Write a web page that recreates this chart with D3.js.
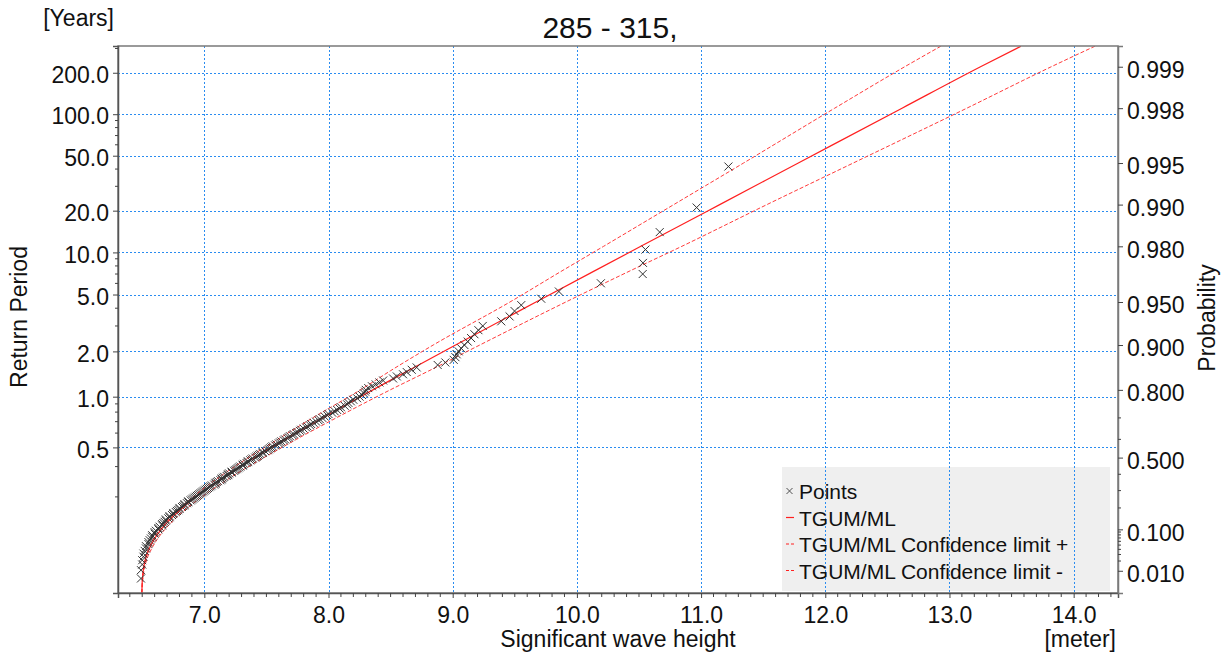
<!DOCTYPE html>
<html>
<head>
<meta charset="utf-8">
<script src="https://cdn.jsdelivr.net/npm/d3@7"></script>
<style>
  body { margin: 0; background: #ffffff; }
  svg { display: block; }
  text { font-family: "Liberation Sans", Arial, sans-serif; fill: #111; }
</style>
</head>
<body>
<svg id="chart" width="1225" height="659"></svg>
<script>
// ---- data -------------------------------------------------------------
const chartTitle = "285 - 315,";
const eventsPerYear = 4.52;           // storm events per year in the sample

const xTickValues = [7, 8, 9, 10, 11, 12, 13, 14];
const returnPeriodTicks = [200, 100, 50, 20, 10, 5, 2, 1, 0.5];
const returnPeriodMinor = [300, 90, 80, 70, 60, 40, 30, 9, 8, 7, 6, 4, 3, 0.9, 0.8, 0.7, 0.6, 0.4, 0.3];
const probabilityTicks = [0.999, 0.998, 0.995, 0.990, 0.980, 0.950, 0.900, 0.800, 0.500, 0.100, 0.010];
const probabilityMinor = [0.7, 0.6, 0.4, 0.3, 0.2, 0.09, 0.08, 0.07, 0.06, 0.05, 0.04, 0.03, 0.02];

// sample points: significant wave height [m] and plotting-position probability
const pointHs = [
  6.490, 6.490, 6.500, 6.500, 6.510, 6.510, 6.520, 6.530, 6.530, 6.550,
  6.550, 6.560, 6.570, 6.580, 6.580, 6.600, 6.600, 6.610, 6.630, 6.630,
  6.640, 6.660, 6.660, 6.670, 6.680, 6.690, 6.690, 6.710, 6.720, 6.720,
  6.740, 6.750, 6.750, 6.770, 6.780, 6.790, 6.800, 6.800, 6.820, 6.830,
  6.840, 6.840, 6.860, 6.870, 6.870, 6.890, 6.900, 6.910, 6.920, 6.930,
  6.940, 6.950, 6.960, 6.970, 6.980, 6.990, 7.000, 7.010, 7.020, 7.030,
  7.040, 7.050, 7.060, 7.080, 7.090, 7.090, 7.100, 7.110, 7.130, 7.140,
  7.140, 7.150, 7.160, 7.180, 7.190, 7.190, 7.200, 7.220, 7.220, 7.240,
  7.250, 7.260, 7.270, 7.280, 7.290, 7.310, 7.310, 7.320, 7.340, 7.350,
  7.350, 7.370, 7.380, 7.390, 7.410, 7.420, 7.430, 7.440, 7.450, 7.470,
  7.470, 7.490, 7.510, 7.520, 7.530, 7.540, 7.550, 7.570, 7.580, 7.600,
  7.610, 7.620, 7.640, 7.650, 7.670, 7.680, 7.690, 7.710, 7.720, 7.740,
  7.750, 7.770, 7.780, 7.800, 7.820, 7.830, 7.850, 7.860, 7.880, 7.900,
  7.920, 7.930, 7.950, 7.970, 7.990, 8.000, 8.030, 8.050, 8.070, 8.090,
  8.100, 8.130, 8.150, 8.160, 8.180, 8.200, 8.230, 8.250, 8.270, 8.285,
  8.295, 8.300, 8.320, 8.350, 8.380, 8.410, 8.440, 8.520, 8.550, 8.600,
  8.630, 8.670, 8.710, 8.879, 8.941, 9.008, 9.022, 9.032, 9.048, 9.068,
  9.094, 9.121, 9.148, 9.175, 9.207, 9.242, 9.391, 9.458, 9.498, 9.552,
  9.713, 9.855, 10.193, 10.530, 10.532, 10.552, 10.667, 10.964, 11.220
];
const pointProb = [
  0.0053, 0.0105, 0.0158, 0.0211, 0.0263, 0.0316, 0.0368, 0.0421, 0.0474, 0.0526,
  0.0579, 0.0632, 0.0684, 0.0737, 0.0789, 0.0842, 0.0895, 0.0947, 0.1000, 0.1053,
  0.1105, 0.1158, 0.1211, 0.1263, 0.1316, 0.1368, 0.1421, 0.1474, 0.1526, 0.1579,
  0.1632, 0.1684, 0.1737, 0.1789, 0.1842, 0.1895, 0.1947, 0.2000, 0.2053, 0.2105,
  0.2158, 0.2211, 0.2263, 0.2316, 0.2368, 0.2421, 0.2474, 0.2526, 0.2579, 0.2632,
  0.2684, 0.2737, 0.2789, 0.2842, 0.2895, 0.2947, 0.3000, 0.3053, 0.3105, 0.3158,
  0.3211, 0.3263, 0.3316, 0.3368, 0.3421, 0.3474, 0.3526, 0.3579, 0.3632, 0.3684,
  0.3737, 0.3789, 0.3842, 0.3895, 0.3947, 0.4000, 0.4053, 0.4105, 0.4158, 0.4211,
  0.4263, 0.4316, 0.4368, 0.4421, 0.4474, 0.4526, 0.4579, 0.4632, 0.4684, 0.4737,
  0.4789, 0.4842, 0.4895, 0.4947, 0.5000, 0.5053, 0.5105, 0.5158, 0.5211, 0.5263,
  0.5316, 0.5368, 0.5421, 0.5474, 0.5526, 0.5579, 0.5632, 0.5684, 0.5737, 0.5789,
  0.5842, 0.5895, 0.5947, 0.6000, 0.6053, 0.6105, 0.6158, 0.6211, 0.6263, 0.6316,
  0.6368, 0.6421, 0.6474, 0.6526, 0.6579, 0.6632, 0.6684, 0.6737, 0.6789, 0.6842,
  0.6895, 0.6947, 0.7000, 0.7053, 0.7105, 0.7158, 0.7211, 0.7263, 0.7316, 0.7368,
  0.7421, 0.7474, 0.7526, 0.7579, 0.7632, 0.7684, 0.7737, 0.7789, 0.7842, 0.7895,
  0.7947, 0.8000, 0.8053, 0.8105, 0.8158, 0.8211, 0.8263, 0.8316, 0.8368, 0.8421,
  0.8474, 0.8526, 0.8579, 0.8632, 0.8684, 0.8737, 0.8789, 0.8842, 0.8895, 0.8947,
  0.9000, 0.9053, 0.9105, 0.9158, 0.9211, 0.9263, 0.9316, 0.9368, 0.9421, 0.9474,
  0.9526, 0.9579, 0.9632, 0.9684, 0.9737, 0.9789, 0.9842, 0.9895, 0.9947
];

// fitted TGUM/ML distribution and its confidence limits
const fitProb  = [0.0012, 0.003, 0.006, 0.01, 0.02, 0.04, 0.07, 0.1, 0.15, 0.2, 0.3, 0.4, 0.5,
                  0.6, 0.7, 0.8, 0.85, 0.9, 0.95, 0.97, 0.98, 0.99, 0.995, 0.998, 0.999, 0.99929];
const fitHs    = [6.497, 6.499, 6.503, 6.508, 6.523, 6.555, 6.603, 6.653, 6.738, 6.824, 7.002, 7.193, 7.405,
                  7.651, 7.952, 8.357, 8.637, 9.023, 9.671, 10.142, 10.515, 11.150, 11.783, 12.618, 13.250, 13.575];
const upperHs  = [6.497, 6.499, 6.502, 6.506, 6.520, 6.550, 6.595, 6.643, 6.723, 6.804, 6.972, 7.153, 7.355,
                  7.591, 7.872, 8.257, 8.497, 8.843, 9.461, 9.880, 10.215, 10.780, 11.342, 12.076, 12.640, 12.930];
const lowerHs  = [6.497, 6.501, 6.507, 6.514, 6.533, 6.573, 6.628, 6.683, 6.773, 6.864, 7.052, 7.253, 7.480,
                  7.741, 8.062, 8.497, 8.807, 9.218, 9.911, 10.428, 10.845, 11.530, 12.225, 13.140, 13.820, 14.171];

// ---- layout -----------------------------------------------------------
const svg = d3.select("#chart");
const plot = { left: 118, right: 1118, top: 46, bottom: 593 };

// Gumbel reduced variate: the probability paper used on the vertical axis
const gumbel = p => -Math.log(-Math.log(p));
const probFromReturnPeriod = T => 1 - 1 / (eventsPerYear * T);

const x = d3.scaleLinear().domain([6.305, 14.357]).range([plot.left, plot.right]);
const y = d3.scaleLinear().domain([-1.899, 7.254]).range([plot.bottom, plot.top]);
const yProb = p => y(gumbel(p));
const yRP = T => y(gumbel(probFromReturnPeriod(T)));

svg.append("defs").append("clipPath").attr("id", "plotClip")
  .append("rect")
  .attr("x", plot.left).attr("y", plot.top)
  .attr("width", plot.right - plot.left).attr("height", plot.bottom - plot.top);

// legend background sits under the grid
const legend = { x: 782, y: 467, w: 328, h: 124 };
svg.append("rect")
  .attr("x", legend.x).attr("y", legend.y)
  .attr("width", legend.w).attr("height", legend.h)
  .attr("fill", "#efefef");

// ---- grid -------------------------------------------------------------
const gridColor = "#2a8cf0";
const grid = svg.append("g").attr("stroke", gridColor).attr("stroke-width", 1)
  .attr("stroke-dasharray", "2,2").attr("fill", "none");
grid.selectAll("line.v").data(xTickValues).join("line")
  .attr("class", "v")
  .attr("x1", d => Math.round(x(d)) + 0.5).attr("x2", d => Math.round(x(d)) + 0.5)
  .attr("y1", plot.top).attr("y2", plot.bottom);
grid.selectAll("line.h").data(returnPeriodTicks).join("line")
  .attr("class", "h")
  .attr("y1", d => Math.round(yRP(d)) + 0.5).attr("y2", d => Math.round(yRP(d)) + 0.5)
  .attr("x1", plot.left).attr("x2", plot.right);

// ---- fitted curve and confidence limits ---------------------------------
const curveLine = d3.line()
  .x(d => x(d[0]))
  .y(d => yProb(d[1]))
  .curve(d3.curveMonotoneX);

const lines = svg.append("g").attr("clip-path", "url(#plotClip)").attr("fill", "none");
lines.append("path")
  .datum(upperHs.map((h, i) => [h, fitProb[i]]))
  .attr("d", curveLine)
  .attr("stroke", "#ff3b3b").attr("stroke-width", 1).attr("stroke-dasharray", "4,2");
lines.append("path")
  .datum(lowerHs.map((h, i) => [h, fitProb[i]]))
  .attr("d", curveLine)
  .attr("stroke", "#ff3b3b").attr("stroke-width", 1).attr("stroke-dasharray", "4,2");
lines.append("path")
  .datum(fitHs.map((h, i) => [h, fitProb[i]]))
  .attr("d", curveLine)
  .attr("stroke", "#ff2020").attr("stroke-width", 1.2);

// ---- sample points (x markers) -------------------------------------------
const cross = (cx, cy, r) =>
  `M${cx - r},${cy - r}L${cx + r},${cy + r}M${cx - r},${cy + r}L${cx + r},${cy - r}`;
svg.append("g").attr("clip-path", "url(#plotClip)")
  .selectAll("path").data(pointHs.map((h, i) => [h, pointProb[i]])).join("path")
  .attr("d", d => cross(x(d[0]), yProb(d[1]), 4))
  .attr("stroke", "#333333").attr("stroke-width", 1).attr("fill", "none");

// ---- frame and axes ---------------------------------------------------
svg.append("rect")
  .attr("x", plot.left).attr("y", plot.top)
  .attr("width", plot.right - plot.left).attr("height", plot.bottom - plot.top)
  .attr("fill", "none").attr("stroke", "#7a7a7a").attr("stroke-width", 1.5);

const fontSize = 23;

// bottom axis: labelled major ticks plus 0.1 m minor ticks
const xAxis = svg.append("g").attr("transform", `translate(0,${plot.bottom})`)
  .call(d3.axisBottom(x).tickValues(xTickValues).tickFormat(d3.format(".1f"))
    .tickSize(5).tickPadding(9));
const xMinor = d3.range(64, 144).map(v => v / 10).filter(v => !xTickValues.includes(v));
svg.append("g").attr("stroke", "#444").selectAll("line").data(xMinor).join("line")
  .attr("x1", d => x(d)).attr("x2", d => x(d))
  .attr("y1", plot.bottom).attr("y2", plot.bottom + 4);

// left axis: return period in years
const yAxis = svg.append("g").attr("transform", `translate(${plot.left},0)`)
  .call(d3.axisLeft(y)
    .tickValues(returnPeriodTicks.map(T => gumbel(probFromReturnPeriod(T))))
    .tickFormat((d, i) => returnPeriodTicks[i].toFixed(1))
    .tickSize(5).tickPadding(4));
svg.append("g").attr("stroke", "#444").selectAll("line").data(returnPeriodMinor).join("line")
  .attr("x1", plot.left - 3).attr("x2", plot.left)
  .attr("y1", d => yRP(d)).attr("y2", d => yRP(d));

// right axis: non-exceedance probability
const yAxisRight = svg.append("g").attr("transform", `translate(${plot.right},0)`)
  .call(d3.axisRight(y)
    .tickValues(probabilityTicks.map(gumbel))
    .tickFormat((d, i) => probabilityTicks[i].toFixed(3))
    .tickSize(5).tickPadding(4));
svg.append("g").attr("stroke", "#444").selectAll("line").data(probabilityMinor).join("line")
  .attr("x1", plot.right).attr("x2", plot.right + 3)
  .attr("y1", d => yProb(d)).attr("y2", d => yProb(d));

[xAxis, yAxis, yAxisRight].forEach(g => {
  g.select(".domain").attr("stroke", "#555").attr("stroke-width", 1.5);
  g.selectAll(".tick line").attr("stroke", "#444");
  g.selectAll(".tick text")
    .style("font-family", '"Liberation Sans", Arial, sans-serif')
    .style("font-size", fontSize + "px").attr("fill", "#111");
});
yAxis.selectAll(".tick text").attr("dy", "0.42em");
yAxisRight.selectAll(".tick text").attr("dy", "0.47em");
xAxis.select(".domain").attr("stroke", "#555");
yAxisRight.select(".domain").attr("stroke", "#7a7a7a");

// ---- titles ------------------------------------------------------------
svg.append("text").attr("x", 610).attr("y", 38).attr("text-anchor", "middle")
  .style("font-size", "30px").text(chartTitle);
svg.append("text").attr("x", 114).attr("y", 26).attr("text-anchor", "end")
  .style("font-size", fontSize + "px").text("[Years]");
svg.append("text").attr("x", 618).attr("y", 647).attr("text-anchor", "middle")
  .style("font-size", fontSize + "px").text("Significant wave height");
svg.append("text").attr("x", 1116).attr("y", 647).attr("text-anchor", "end")
  .style("font-size", fontSize + "px").text("[meter]");
svg.append("text").attr("transform", "translate(27,317) rotate(-90)")
  .attr("text-anchor", "middle").style("font-size", fontSize + "px").text("Return Period");
svg.append("text").attr("transform", "translate(1215,318) rotate(-90)")
  .attr("text-anchor", "middle").style("font-size", fontSize + "px").text("Probability");

// ---- legend content -----------------------------------------------------
const legendItems = [
  { label: "Points", kind: "cross" },
  { label: "TGUM/ML", kind: "solid" },
  { label: "TGUM/ML Confidence limit +", kind: "dash" },
  { label: "TGUM/ML Confidence limit -", kind: "dash" }
];
const legendRows = svg.append("g").selectAll("g").data(legendItems).join("g")
  .attr("transform", (d, i) => `translate(0,${491 + i * 26.5})`);
legendRows.each(function (d) {
  const g = d3.select(this);
  if (d.kind === "cross") {
    g.append("path").attr("d", cross(789.5, 0, 3)).attr("stroke", "#505050").attr("fill", "none");
  } else {
    g.append("line").attr("x1", 786).attr("x2", 794).attr("y1", 0).attr("y2", 0)
      .attr("stroke", "#ff2020").attr("stroke-width", 1.2)
      .attr("stroke-dasharray", d.kind === "dash" ? "3,2" : null);
  }
  g.append("text").attr("x", 799).attr("y", 8).style("font-size", "21px").text(d.label);
});
</script>
</body>
</html>
